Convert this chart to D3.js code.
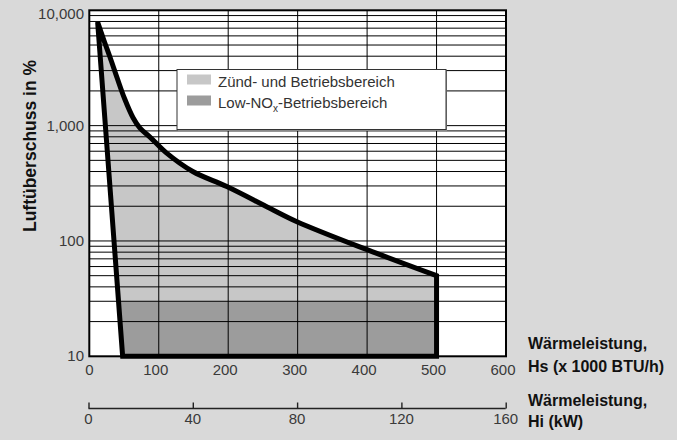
<!DOCTYPE html>
<html><head><meta charset="utf-8">
<script src="https://cdn.jsdelivr.net/npm/d3@7"></script>
<style>html,body{margin:0;padding:0;background:#d9d9d9;}svg{display:block;}</style>
</head><body><svg id="c" width="677" height="440"></svg>
<script>
// ---- data ----
const hsTicks = [0, 100, 200, 300, 400, 500, 600];
const kwTicks = [0, 40, 80, 120, 160];
const yTicks = [10, 100, 1000, 10000];
const yTickLabels = ["10", "100", "1,000", "10,000"];
// upper envelope of the operating range (Hs x1000 BTU/h, excess air %)
const upperX = [12, 21, 30, 40, 51, 63, 73, 87, 111, 149, 198, 260, 299, 400, 500];
const upperY = [7900, 5500, 3900, 2600, 1700, 1170, 950, 800, 580, 400, 296, 192, 147, 84, 50];
// left edge: from bottom (10 %) up to the tip
const leftX = [48, 12];
const leftY = [10, 7900];
const rightEdgeX = 500;
const lowNoxLimit = 30;
const legendLabels = ["Zünd- und Betriebsbereich", "Low-NO|x|-Betriebsbereich"];

// ---- layout ----
const svg = d3.select("#c");
const x = d3.scaleLinear().domain([0, 600]).range([89.3, 506]);
const xk = d3.scaleLinear().domain([0, 160]).range([88.5, 505.7]);
const y = d3.scaleLog().domain([10, 10000]).range([356.3, 10.3]);
const X0 = x(0), X1 = x(600), Y0 = y(10), Y1 = y(10000);

svg.append("rect").attr("width", 677).attr("height", 440).attr("fill", "#d9d9d9");
svg.append("rect").attr("x", X0).attr("y", Y1).attr("width", X1 - X0).attr("height", Y0 - Y1).attr("fill", "#fff");

// polygon path
const upperPts = upperX.map((v, i) => [v, upperY[i]]);
const upper = d3.line().x(d => x(d[0])).y(d => y(d[1])).curve(d3.curveCatmullRom.alpha(0.5))(upperPts);
const polyD = `M${x(leftX[0])},${y(leftY[0])}L` + upper.slice(1) + `L${x(rightEdgeX)},${y(10)}Z`;

svg.append("path").attr("d", polyD).attr("fill", "#c7c7c7");
svg.append("clipPath").attr("id", "lowclip").append("rect")
  .attr("x", X0).attr("y", y(lowNoxLimit)).attr("width", X1 - X0).attr("height", Y0 - y(lowNoxLimit));
svg.append("path").attr("d", polyD).attr("fill", "#9c9c9c").attr("clip-path", "url(#lowclip)");

// grid
const minor = [];
[10, 100, 1000].forEach(dec => { for (let k = 1; k <= 9; k++) { const v = dec * k; if (v > 10 && v < 10000) minor.push(v); } });
const g = svg.append("g");
g.selectAll(".hg").data(minor).enter().append("line")
  .attr("x1", X0).attr("x2", X1).attr("y1", d => y(d)).attr("y2", d => y(d))
  .attr("stroke", "#000").attr("stroke-width", 1);
g.selectAll(".vg").data(hsTicks.slice(1, -1)).enter().append("line")
  .attr("x1", d => x(d)).attr("x2", d => x(d)).attr("y1", Y1).attr("y2", Y0)
  .attr("stroke", "#000").attr("stroke-width", 1);

// border
svg.append("rect").attr("x", X0).attr("y", Y1).attr("width", X1 - X0).attr("height", Y0 - Y1)
  .attr("fill", "none").attr("stroke", "#000").attr("stroke-width", 2);

// outline
svg.append("path").attr("d", polyD).attr("fill", "none").attr("stroke", "#000")
  .attr("stroke-width", 5).attr("stroke-linejoin", "miter").attr("stroke-miterlimit", 4);

// legend
const lg = svg.append("g");
lg.append("rect").attr("x", 178).attr("y", 70.5).attr("width", 269).attr("height", 60.5).attr("fill", "#8a8a8a");
lg.append("rect").attr("x", 177).attr("y", 69.5).attr("width", 269).attr("height", 60).attr("fill", "#fff")
  .attr("stroke", "#333").attr("stroke-width", 1);
const swFill = ["#c7c7c7", "#9c9c9c"];
legendLabels.forEach((lab, i) => {
  lg.append("rect").attr("x", 187).attr("y", 74.5 + i * 21).attr("width", 24).attr("height", 10).attr("fill", swFill[i]);
  const t = lg.append("text").attr("x", 218).attr("y", 86.5 + i * 21)
    .attr("font-family", "Liberation Sans, Arial, sans-serif").attr("font-size", 15).attr("fill", "#333");
  const parts = lab.split("|");
  if (parts.length === 1) t.text(lab);
  else {
    t.append("tspan").text(parts[0]);
    t.append("tspan").text(parts[1]).attr("font-size", 10).attr("dy", 4);
    t.append("tspan").text(parts[2]).attr("dy", -4);
  }
});

// y tick labels
const font = "Liberation Sans, Arial, sans-serif";
svg.selectAll(".yl").data(yTicks).enter().append("text")
  .attr("x", 84).attr("y", d => Math.max(y(d) + 5, 18.5)).attr("text-anchor", "end")
  .attr("font-family", font).attr("font-size", 15).attr("fill", "#3a3a3a")
  .text((d, i) => yTickLabels[i]);

// Hs tick labels
svg.selectAll(".xl").data(hsTicks).enter().append("text")
  .attr("x", d => x(d) - (d === 0 ? 0 : 3)).attr("y", 375).attr("text-anchor", "middle")
  .attr("font-family", font).attr("font-size", 15).attr("fill", "#3a3a3a")
  .text(d => d);

// kW axis
const kwAxis = svg.append("g").attr("transform", "translate(0,408.5)")
  .call(d3.axisTop(xk).tickValues(kwTicks).tickSize(6).tickFormat(""));
kwAxis.select(".domain").attr("stroke", "#222").attr("stroke-width", 1.4).attr("d", `M${xk(0)},0H${xk(160)}`);
kwAxis.selectAll(".tick line").attr("stroke", "#222").attr("stroke-width", 1.4);
svg.selectAll(".kl").data(kwTicks).enter().append("text")
  .attr("x", d => xk(d)).attr("y", 423.5).attr("text-anchor", "middle")
  .attr("font-family", font).attr("font-size", 15).attr("fill", "#3a3a3a")
  .text(d => d);

// titles
const tf = "Liberation Sans, Arial, sans-serif";
svg.append("text").attr("transform", "translate(36,146) rotate(-90)").attr("text-anchor", "middle")
  .attr("font-family", tf).attr("font-weight", "bold").attr("font-size", 17.5).attr("fill", "#111")
  .text("Luftüberschuss in %");
const t1 = [["Wärmeleistung,", 348.5], ["Hs (x 1000 BTU/h)", 372], ["Wärmeleistung,", 406], ["Hi (kW)", 427]];
t1.forEach(([s, yy]) => svg.append("text").attr("x", 528).attr("y", yy)
  .attr("font-family", tf).attr("font-weight", "bold").attr("font-size", 16).attr("fill", "#111").text(s));
</script></body></html>
